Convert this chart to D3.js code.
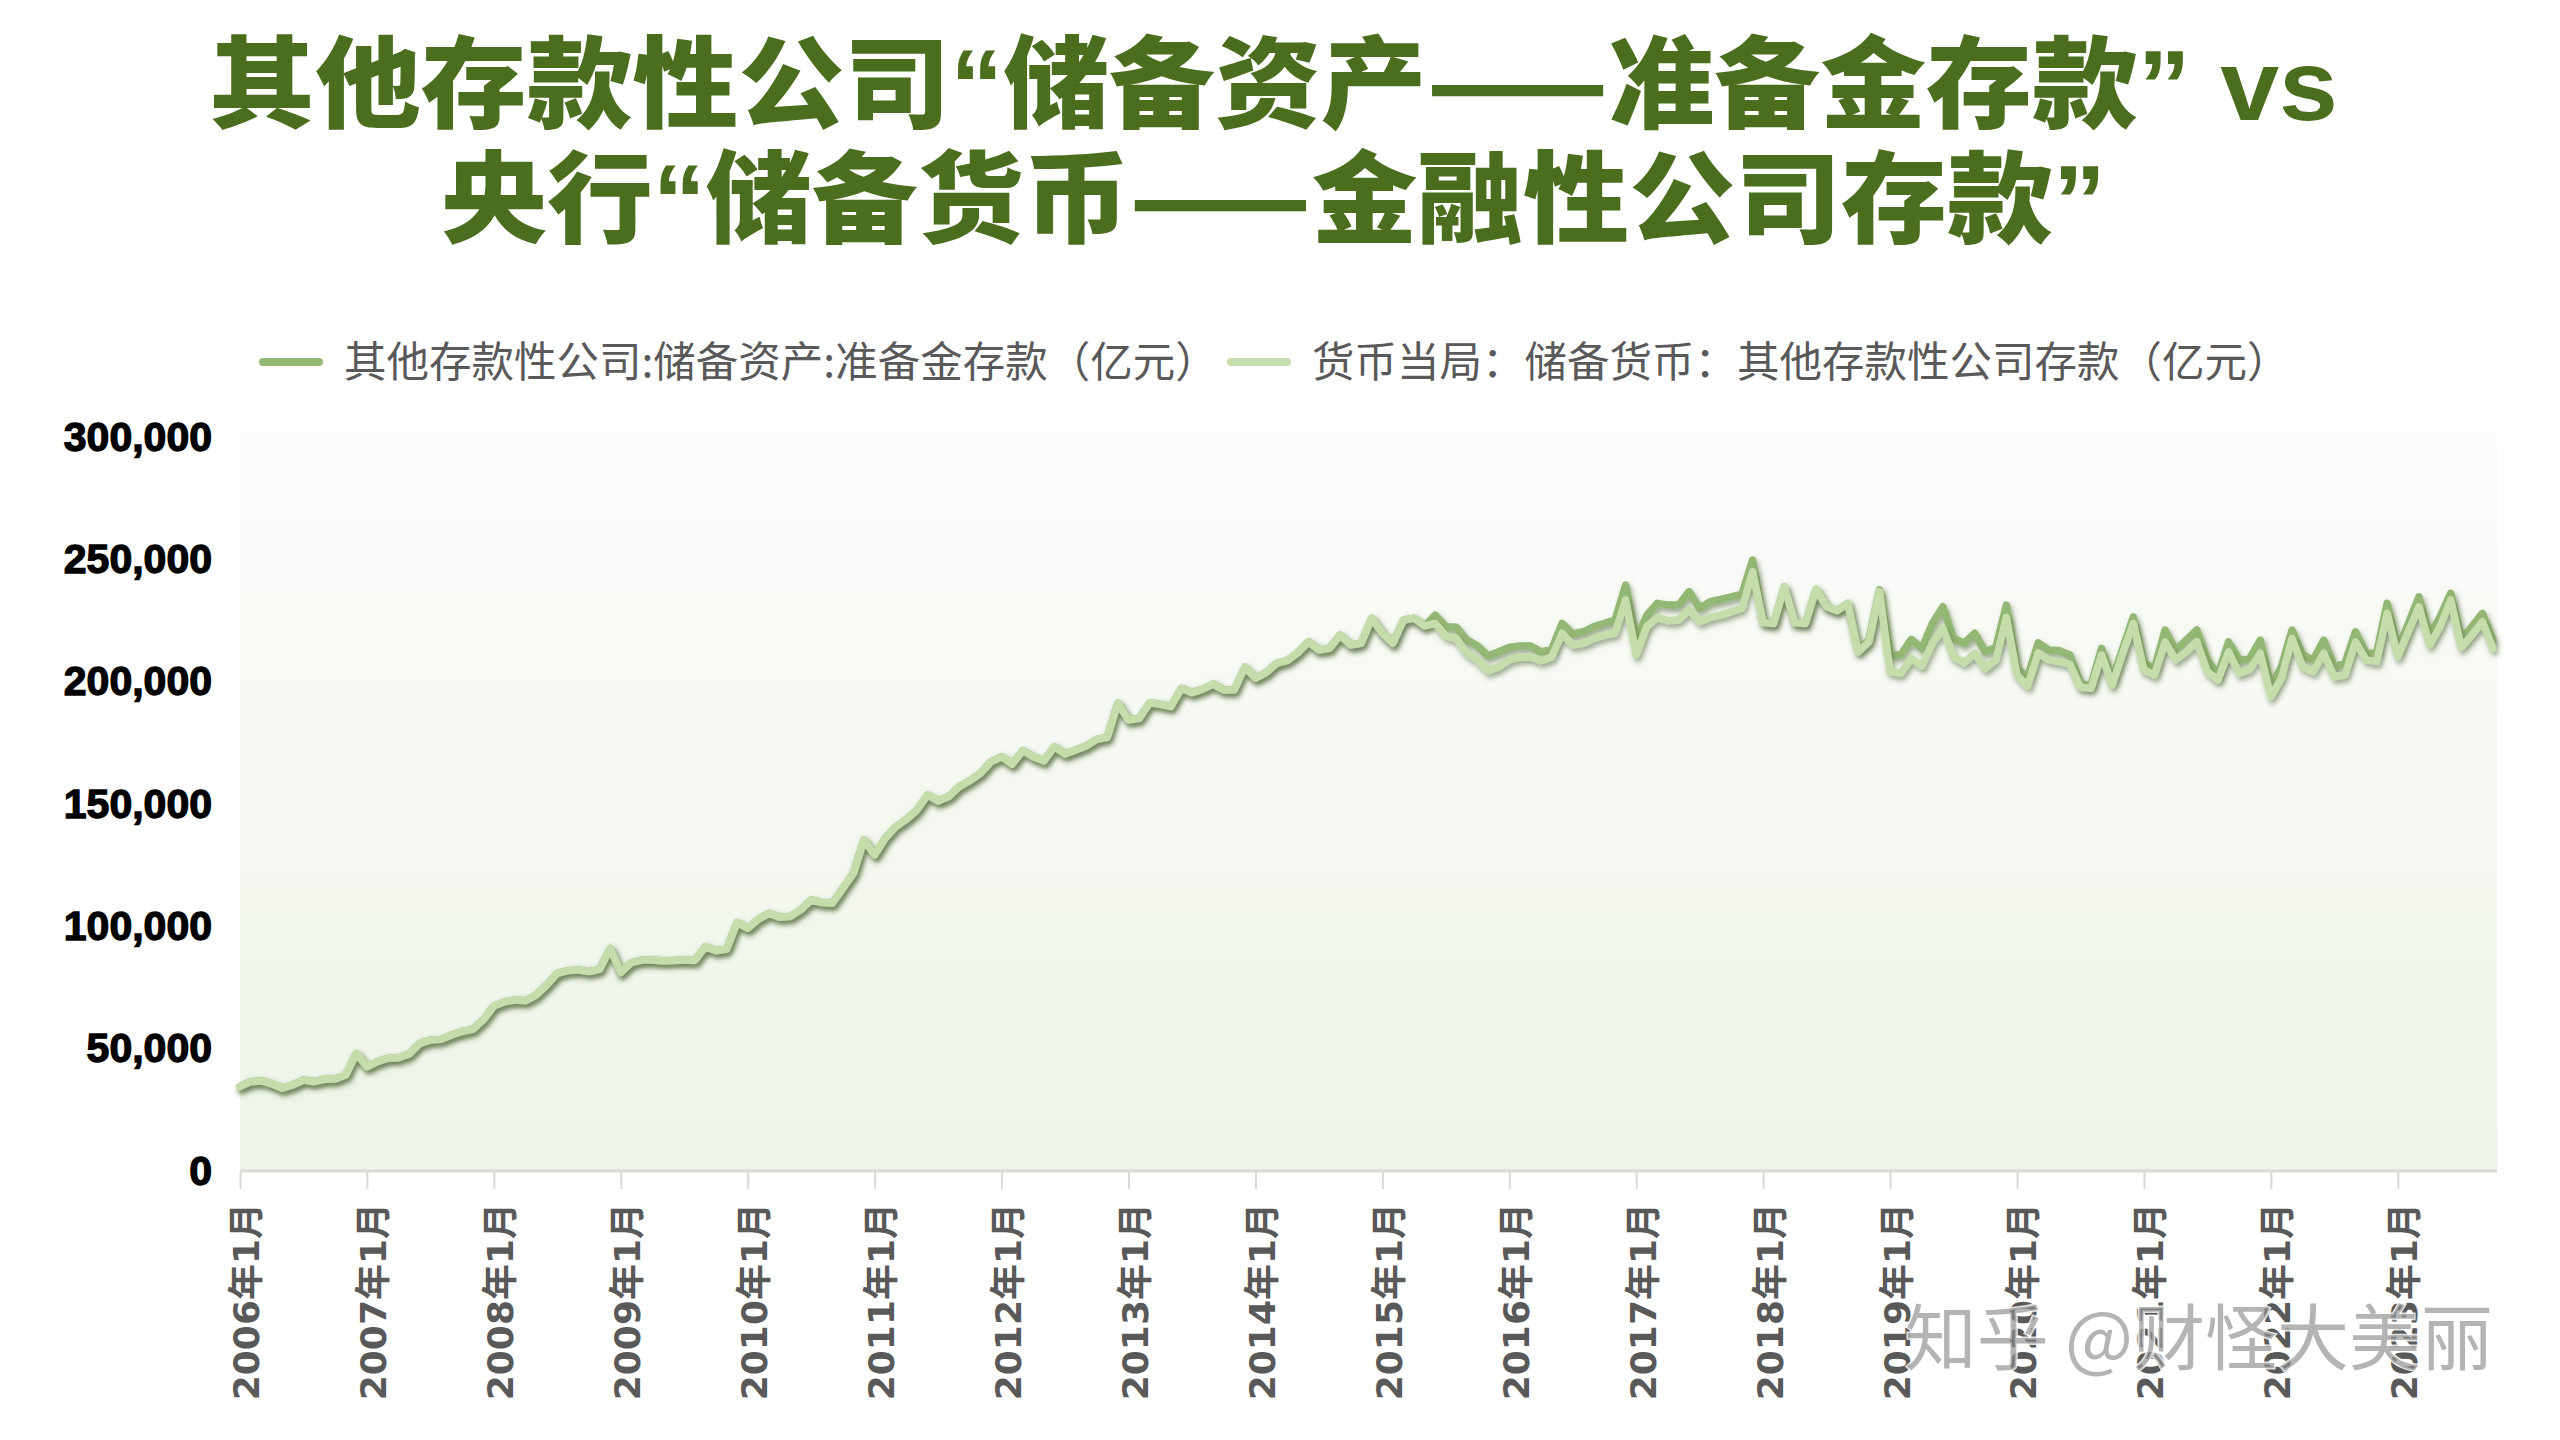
<!DOCTYPE html>
<html><head><meta charset="utf-8">
<script src="https://cdn.jsdelivr.net/npm/d3@7"></script>
<style>html,body{margin:0;padding:0;background:#fff;} svg{display:block}</style>
</head><body>
<svg id="c" width="2560" height="1440"></svg>
<script>
// ---------- data ----------
const titleLines = ["其他存款性公司“储备资产——准备金存款” vs", "央行“储备货币——金融性公司存款”"];
const seriesNames = ["其他存款性公司:储备资产:准备金存款（亿元）", "货币当局：储备货币：其他存款性公司存款（亿元）"];
const tickLabels = ["2006年1月","2007年1月","2008年1月","2009年1月","2010年1月","2011年1月","2012年1月","2013年1月","2014年1月","2015年1月","2016年1月","2017年1月","2018年1月","2019年1月","2020年1月","2021年1月","2022年1月","2023年1月"];
const yTicks = [0, 50000, 100000, 150000, 200000, 250000, 300000];
const startYear = 2006;
const watermark = "知乎 @财怪大美丽";

// 其他存款性公司:储备资产:准备金存款 (monthly, 2006-01 .. 2023-10)
const reserveDeposits = [
34500,36500,36800,35600,33800,35200,37200,36500,37500,37600,39200,48000,
42600,44700,46100,46300,47800,52200,53500,53800,55600,57000,57900,61700,
67400,69200,69900,69600,71900,76000,80800,81900,82200,81500,82400,91000,
81100,85200,86200,86200,85800,86000,86200,86000,91700,90000,90600,101500,
99200,102900,105300,103700,104000,106700,110800,109700,109400,115500,121700,135300,
129200,136000,140700,143700,147500,153700,151200,153000,157100,159500,162500,167300,
169300,166300,171800,169300,167600,173400,170400,172100,173700,176400,177300,191200,
184300,184900,191400,190700,189800,197300,195500,196900,199000,196600,196600,205900,
201400,203700,207500,208600,211800,216300,212900,213600,219000,215000,215700,225900,
219800,215700,225200,225900,222800,227200,222500,222200,217000,214600,210500,212200,
214000,214600,214600,212200,213200,223800,219500,220400,222500,223800,225200,239500,
217000,227200,232000,231300,231300,236800,230000,232700,233600,234700,235800,249700,
224500,223800,238800,224100,223800,237700,230600,229000,232000,213000,217000,237500,
210900,210900,217300,213600,223800,230600,217700,215700,219800,212200,214000,231300,
205400,201800,215900,212900,212700,210900,199000,198600,213600,200700,213600,226500,
207500,205400,221100,212900,217000,221100,208900,202700,216300,208900,209500,217000,
197900,206100,221100,210900,208900,217000,206100,207500,220400,211600,211600,232000,
213200,223800,234700,218700,226500,236100,217000,222500,227900,217000
];
// 货币当局：储备货币：其他存款性公司存款 (monthly, 2006-01 .. 2023-10)
const reserveMoneyODC = [
34500,36500,36800,35600,33800,35200,37200,36500,37500,37600,39200,48000,
42600,44700,46100,46300,47800,52200,53500,53800,55600,57000,57900,61700,
67400,69200,69900,69600,71900,76000,80800,81900,82200,81500,82400,91000,
81100,85200,86200,86200,85800,86000,86200,86000,91700,90000,90600,101500,
99200,102900,105300,103700,104000,106700,110800,109700,109400,115500,121700,135300,
129200,136000,140700,143700,147500,153700,151200,153000,157100,159500,162500,167300,
169300,166300,171800,169300,167600,173400,170400,172100,173700,176400,177300,191200,
184300,184900,191400,190700,189800,197300,195500,196900,199000,196600,196600,205900,
201400,203700,207500,208600,211800,216300,212900,213600,219000,215000,215700,225900,
219800,215700,225200,225900,222800,223800,218700,217700,211600,208900,204500,206100,
208900,210000,210200,208600,210000,219800,215000,215700,217700,219000,219800,233400,
210900,222500,226300,224900,225200,229300,224500,226300,227200,228600,230000,245000,
224100,223800,238800,224100,223800,237700,230600,229000,232000,212200,216300,236800,
204100,203400,209500,206400,215700,221800,210200,207800,211600,205400,208900,226300,
202700,198200,211800,208900,208200,207200,197700,197300,210900,198600,211600,223800,
204800,202700,216300,208900,212200,216300,204100,200700,212200,203400,205000,211600,
193900,201400,217700,206100,204100,211600,202000,202700,216300,208900,208200,227900,
210200,220400,230600,215000,222500,233400,214000,219000,224500,213600
];

const seriesColors = ["#93b874", "#c5dcab"];

// ---------- drawing ----------
const months = reserveDeposits.map((_, i) => `${startYear + Math.floor(i / 12)}年${i % 12 + 1}月`);
const svg = d3.select("#c");
const W = 2560, H = 1440;
svg.append("rect").attr("width", W).attr("height", H).attr("fill", "#ffffff");

const plot = {left: 240, right: 2497, top: 433, bottom: 1171};
const x = d3.scalePoint().domain(months).range([240, 2493]).padding(0);
const y = d3.scaleLinear().domain([0, 300000]).range([1171, 437]);

const defs = svg.append("defs");
const grad = defs.append("linearGradient").attr("id", "bg").attr("x1", 0).attr("y1", 0).attr("x2", 0).attr("y2", 1);
grad.append("stop").attr("offset", "0%").attr("stop-color", "#fcfcfb");
grad.append("stop").attr("offset", "100%").attr("stop-color", "#edf4e7");
const f = defs.append("filter").attr("id", "sh").attr("x", "-5%").attr("y", "-20%").attr("width", "110%").attr("height", "140%");
f.append("feDropShadow").attr("dx", 2).attr("dy", 3.5).attr("stdDeviation", 2.5)
  .attr("flood-color", "#3a5424").attr("flood-opacity", 0.5);

svg.append("rect").attr("x", plot.left).attr("y", plot.top)
  .attr("width", plot.right - plot.left).attr("height", plot.bottom - plot.top)
  .attr("fill", "url(#bg)");

// title: each run (CJK / Latin quotes & "vs") is its own text, laid out side by side
const titleLens = [2129, 1665];
const titleCenter = 1273.5;
titleLines.forEach((line, i) => {
  const g = svg.append("g");
  const runs = line.match(/[“”\sA-Za-z]+|[^“”\sA-Za-z]+/g);
  const nodes = runs.map(r => {
    const latin = /^[“”\sA-Za-z]+$/.test(r);
    const t = g.append("text")
      .attr("y", 120 + i * 115)
      .attr("font-family", latin ? "'Liberation Sans', sans-serif" : "'Noto Sans CJK SC', sans-serif")
      .attr("font-weight", latin ? "bold" : 900)
      .attr("font-size", 100)
      .attr("fill", "#4b6e1e")
      .style("white-space", "pre")
      .text(r);
    return t;
  });
  const natural = nodes.map(t => t.node().getComputedTextLength());
  const total = d3.sum(natural);
  const s = titleLens[i] / total;
  let cx = titleCenter - titleLens[i] / 2;
  nodes.forEach((t, k) => {
    const w = natural[k] * s;
    t.attr("x", cx).attr("textLength", w).attr("lengthAdjust", "spacingAndGlyphs");
    cx += w;
  });
});

// legend
const legendX = [263, 1231];
const lg = svg.append("g");
seriesNames.forEach((name, i) => {
  lg.append("line").attr("x1", legendX[i]).attr("x2", legendX[i] + 56)
    .attr("y1", 362).attr("y2", 362)
    .attr("stroke", seriesColors[i]).attr("stroke-width", 8).attr("stroke-linecap", "round");
  lg.append("text").attr("x", legendX[i] + 81).attr("y", 377)
    .attr("font-family", "'Noto Sans CJK SC', sans-serif")
    .attr("font-size", 42.5).attr("fill", "#595959").text(name);
});

// y axis
const ya = svg.append("g").attr("transform", `translate(${plot.left},0)`)
  .call(d3.axisLeft(y).tickValues(yTicks).tickFormat(d3.format(",")).tickSize(0).tickPadding(28));
ya.select(".domain").remove();
ya.selectAll("text").attr("font-family", "'Liberation Sans', sans-serif")
  .attr("font-weight", "bold").attr("font-size", 41).attr("fill", "#000")
  .attr("stroke", "#000").attr("stroke-width", 1.3);

// x axis
const tickMonths = months.filter(m => m.endsWith("年1月"));
const xa = svg.append("g").attr("transform", `translate(0,${plot.bottom})`)
  .call(d3.axisBottom(x).tickValues(tickMonths).tickFormat((d, i) => tickLabels[i]).tickSize(18).tickSizeOuter(0));
xa.select(".domain").attr("d", `M${plot.left},0H${plot.right}`).attr("stroke", "#d9d9d9").attr("stroke-width", 3);
xa.selectAll(".tick line").attr("stroke", "#d9d9d9").attr("stroke-width", 2);
xa.selectAll(".tick text")
  .attr("transform", "rotate(-90)")
  .attr("text-anchor", "end")
  .attr("x", -32).attr("y", 6).attr("dy", "0.36em")
  .attr("font-family", "'DejaVu Sans', 'Noto Sans CJK SC', sans-serif")
  .attr("font-weight", "bold").attr("font-size", 36).attr("fill", "#595959");

// lines
const line = d3.line().x((d, i) => x(months[i])).y(d => y(d)).curve(d3.curveLinear);
[reserveDeposits, reserveMoneyODC].forEach((s, k) => {
  svg.append("path").datum(s).attr("d", line)
    .attr("fill", "none").attr("stroke", seriesColors[k]).attr("stroke-width", 7.5)
    .attr("stroke-linejoin", "round").attr("stroke-linecap", "round")
    .attr("filter", "url(#sh)");
});

// watermark
svg.append("text").attr("x", 2493).attr("y", 1364).attr("text-anchor", "end")
  .attr("font-family", "'Noto Sans CJK SC', sans-serif").attr("font-size", 72)
  .attr("fill", "rgba(140,140,140,0.65)").attr("stroke", "rgba(255,255,255,0.8)")
  .attr("stroke-width", 3).attr("paint-order", "stroke").text(watermark);
</script>
</body></html>
